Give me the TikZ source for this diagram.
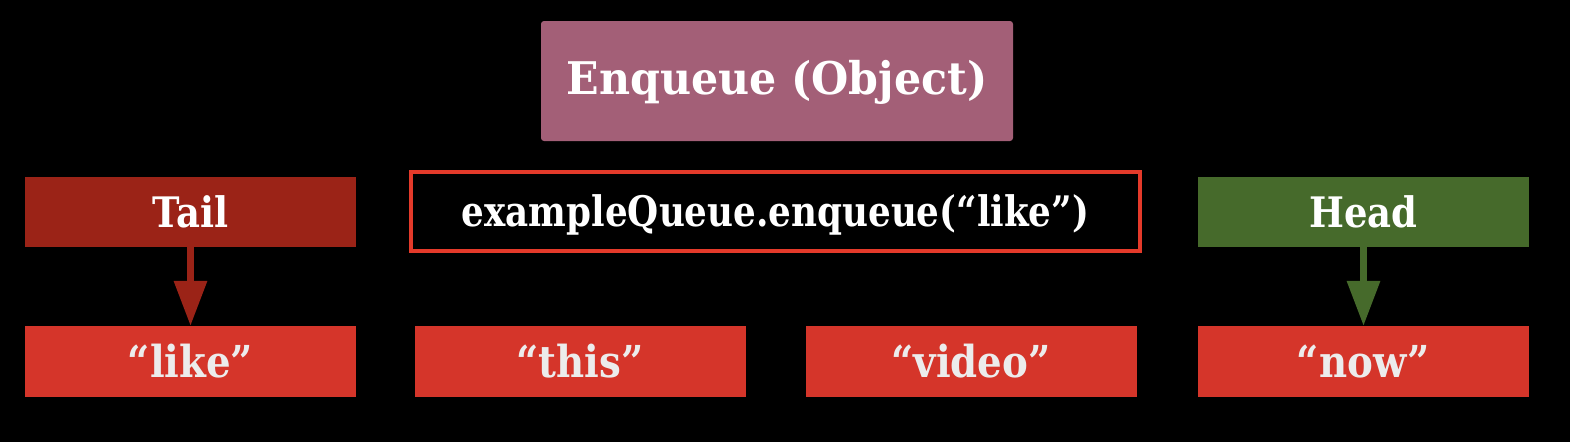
\documentclass[tikz,border=0pt]{standalone}
\usepackage{fontspec}
\setmainfont{DejaVu Serif}
\newfontfamily\titlefont{DejaVu Serif}[FakeStretch=0.95]
\newfontfamily\labfont{DejaVu Serif}[FakeStretch=0.88]
\newfontfamily\cmdfont{DejaVu Serif}[FakeStretch=0.85]
\usetikzlibrary{arrows.meta}
\definecolor{bgblack}{HTML}{000000}
\definecolor{enqcol}{HTML}{A35F77}
\definecolor{tailcol}{HTML}{9B2317}
\definecolor{headcol}{HTML}{466A2B}
\definecolor{itemcol}{HTML}{D5352A}
\definecolor{cmdborder}{HTML}{E43A2A}
\definecolor{itemtext}{HTML}{ECECEC}
\tikzset{
  box/.style={rectangle, inner sep=0pt, text depth=0pt, align=center},
  enqbox/.style={box, text height=32.8pt, text depth=5pt, fill=enqcol, rounded corners=3pt, minimum width=472pt, minimum height=120pt,
     text=white, font=\titlefont\bfseries\fontsize{45}{50}\selectfont},
  ptrbox/.style={box, text height=30.6pt, minimum width=331pt, minimum height=70pt, text=white,
     font=\labfont\bfseries\fontsize{42}{46}\selectfont},
  itembox/.style={box, text height=32pt, fill=itemcol, minimum width=331pt, minimum height=71pt, text=itemtext,
     font=\labfont\bfseries\fontsize{44}{48}\selectfont},
  cmdbox/.style={box, text height=30.6pt, fill=black, draw=cmdborder, line width=4pt, minimum width=729pt, minimum height=79pt,
     text=white, font=\cmdfont\bfseries\fontsize{42}{46}\selectfont},
  ptrarrow/.style={line width=6.5pt, -{Triangle[width=32pt,length=45pt]}, shorten >=0pt}
}
\begin{document}
\begin{tikzpicture}[x=1pt,y=-1pt]
\fill[bgblack] (0,0) rectangle (1570,442);
\useasboundingbox (0,0) rectangle (1570,442);
\node[enqbox] (enq) at (777,81) {Enqueue (Object)};
\node[ptrbox, fill=tailcol] (tail) at (190.5,212) {Tail};
\node[cmdbox] (cmd) at (775.5,211.5) {exampleQueue.enqueue(“like”)};
\node[ptrbox, fill=headcol] (head) at (1363.5,212) {Head};
\node[itembox] (like) at (190.5,361.5) {“like”};
\node[itembox] (this) at (580,361.5) {“this”};
\node[itembox] (video) at (971,361.5) {“video”};
\node[itembox] (now) at (1363.5,361.5) {“now”};
\draw[ptrarrow, tailcol] (tail.south) -- (like.north);
\draw[ptrarrow, headcol] (head.south) -- (now.north);
\end{tikzpicture}
\end{document}
